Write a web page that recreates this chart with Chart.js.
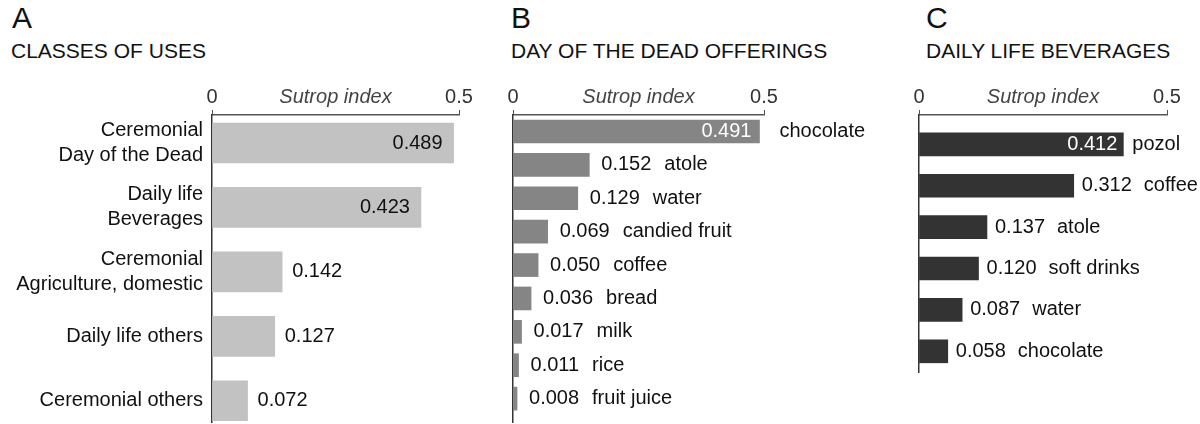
<!DOCTYPE html>
<html><head><meta charset="utf-8">
<script src="https://cdn.jsdelivr.net/npm/chart.js@4"></script>
<style>
html,body{margin:0;padding:0;background:#fff;}
body{width:1200px;height:424px;position:relative;overflow:hidden;font-family:"Liberation Sans",Arial,sans-serif;color:#111;}
.box{position:absolute;top:0;height:424px;}
.letter{position:absolute;font-size:30px;line-height:1;top:3px;white-space:nowrap;}
.title{position:absolute;font-size:21px;line-height:1;top:40px;white-space:nowrap;}
</style></head>
<body>
<div class="letter" style="left:12px">A</div>
<div class="title" style="left:11px">CLASSES OF USES</div>
<div class="letter" style="left:511px">B</div>
<div class="title" style="left:511px">DAY OF THE DEAD OFFERINGS</div>
<div class="letter" style="left:926px">C</div>
<div class="title" style="left:926px">DAILY LIFE BEVERAGES</div>
<div class="box" style="left:0;width:480px"><canvas id="cA"></canvas></div>
<div class="box" style="left:480px;width:420px"><canvas id="cB"></canvas></div>
<div class="box" style="left:900px;width:300px"><canvas id="cC"></canvas></div>
<script>
// ---- data ----
const catA = [['Ceremonial','Day of the Dead'],['Daily life','Beverages'],['Ceremonial','Agriculture, domestic'],'Daily life others','Ceremonial others'];
const valA = [0.489,0.423,0.142,0.127,0.072];
const catB = ['chocolate','atole','water','candied fruit','coffee','bread','milk','rice','fruit juice'];
const valB = [0.491,0.152,0.129,0.069,0.050,0.036,0.017,0.011,0.008];
const catC = ['pozol','coffee','atole','soft drinks','water','chocolate'];
const valC = [0.412,0.312,0.137,0.120,0.087,0.058];
const axisTickValues = [0,0.25,0.5];
const axisTickLabels = ['0','Sutrop index','0.5'];

const FONT = '"Liberation Sans", Arial, sans-serif';

const barLabels = {
  id:'barLabels',
  afterDatasetsDraw(chart, args, o){
    const ctx = chart.ctx;
    const meta = chart.getDatasetMeta(0);
    const data = chart.data.datasets[0].data;
    ctx.save();
    ctx.font = '20px ' + FONT;
    ctx.textBaseline = 'middle';
    meta.data.forEach((bar,i)=>{
      const v = data[i].x;
      const txt = v.toFixed(3);
      const name = o.names ? chart.data.labels[i] : null;
      if (v > 0.4) {
        ctx.fillStyle = o.insideColor; ctx.textAlign='right';
        ctx.fillText(txt, bar.x - o.insidePad, bar.y);
        if (name){ ctx.fillStyle='#111'; ctx.textAlign='left'; ctx.fillText(name, bar.x + o.namePad, bar.y); }
      } else {
        ctx.fillStyle='#111'; ctx.textAlign='left';
        ctx.fillText(txt, bar.x + o.outsidePad, bar.y);
        if (name){ const w = ctx.measureText(txt).width; ctx.fillText(name, bar.x + o.outsidePad + w + o.gap, bar.y); }
      }
    });
    ctx.restore();
  }
};

function make(id, cats, vals, cfg){
  return new Chart(document.getElementById(id), {
    type:'bar',
    data:{
      labels: cats,
      datasets:[{
        data: vals.map((v,i)=>({x:v, y:i})),
        backgroundColor: cfg.color,
        borderWidth:0,
        barThickness: cfg.thick
      }]
    },
    options:{
      indexAxis:'y',
      responsive:true, maintainAspectRatio:false, animation:false,
      layout:{padding:cfg.padding},
      plugins:{legend:{display:false}, tooltip:{enabled:false}, barLabels: cfg.labels},
      scales:{
        x:{
          type:'linear', position:'top', min:0, max:0.5, bounds:'data', offset:false,
          afterBuildTicks: s => { s.ticks = axisTickValues.map(v=>({value:v})); s.min = 0; s.max = 0.5; },
          afterFit: s => { s.height = 40; },
          ticks:{
            autoSkip:false, maxRotation:0, padding:1,
            callback: (v,i) => axisTickLabels[i],
            font: c => (c.tick && c.tick.value === 0.25) ? {family:FONT, size:20, style:'italic'} : {family:FONT, size:20},
            color: c => (c.tick && c.tick.value === 0.25) ? '#444' : '#333'
          },
          grid:{display:true, offset:false, drawOnChartArea:false, drawTicks:true, tickLength:5,
                color: c => (c.tick && c.tick.value === 0.25) ? 'rgba(0,0,0,0)' : '#555', lineWidth:1},
          border:{display:true, color:'#555', width:1.4}
        },
        y:{
          type:'linear', reverse:true, min:cfg.yMin, max:cfg.yMax, bounds:'data', offset:false,
          afterBuildTicks: s => { s.ticks = cats.map((_,i)=>({value:i})); s.min = cfg.yMin; s.max = cfg.yMax; },
          afterFit: s => { s.width = cfg.yWidth; s.paddingTop = 0; s.paddingBottom = 0; },
          ticks:{
            display: cfg.yLabels, autoSkip:false, padding:9,
            callback: v => cats[v],
            font:{family:FONT, size:20, lineHeight:1.25},
            color:'#111'
          },
          grid:{display:false, offset:false, drawTicks:false},
          border:{display:true, color:'#333', width:1.5}
        }
      }
    },
    plugins:[barLabels]
  });
}

make('cA', catA, valA, {
  color:'#c2c2c2', thick:40, yMin:-0.435, yMax:4.33, yWidth:212, yLabels:true,
  padding:{top:75,left:0,right:21,bottom:2},
  labels:{names:false, insideColor:'#111', insidePad:11, outsidePad:10, gap:0}
});
make('cB', catB, valB, {
  color:'#858585', thick:23, yMin:-0.494, yMax:8.70, yWidth:33, yLabels:false,
  padding:{top:75,left:0,right:136,bottom:2},
  labels:{names:true, insideColor:'#fff', insidePad:8, namePad:20, outsidePad:12, gap:13}
});
make('cC', catC, valC, {
  color:'#333333', thick:23, yMin:-0.71, yMax:5.5, yWidth:19, yLabels:false,
  padding:{top:75,left:0,right:33,bottom:52},
  labels:{names:true, insideColor:'#fff', insidePad:6, namePad:9, outsidePad:8, gap:12}
});
</script>
</body></html>
